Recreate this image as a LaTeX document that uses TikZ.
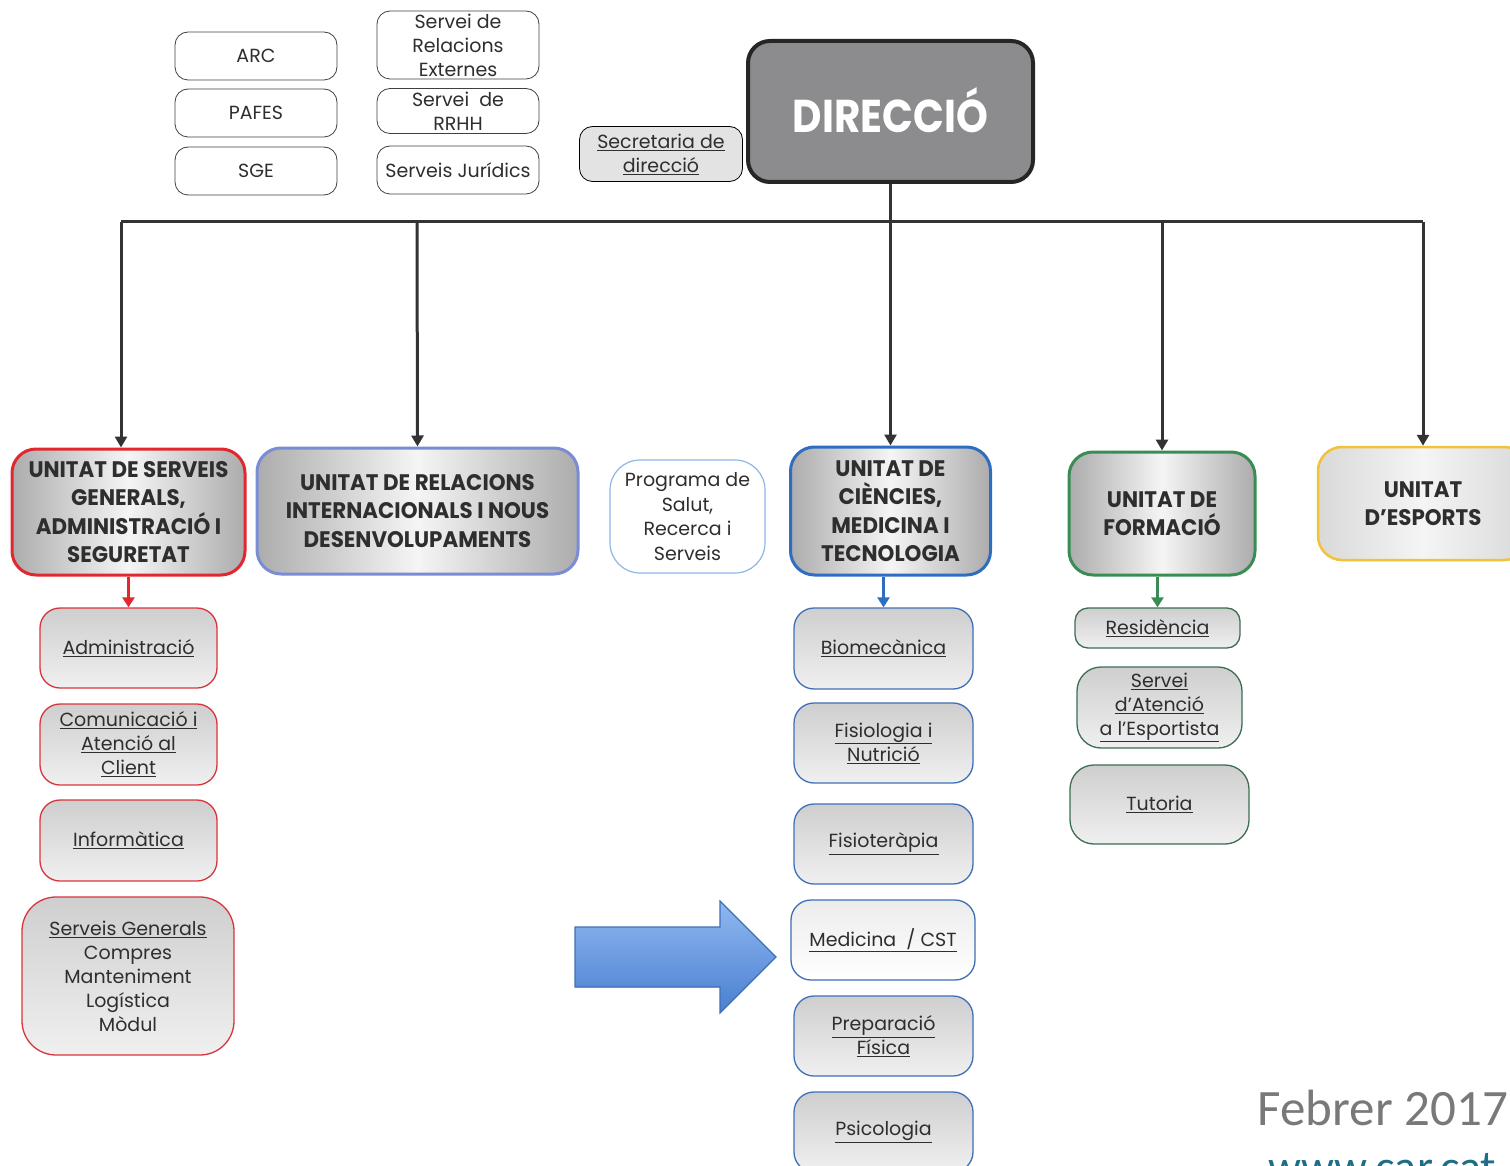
\documentclass[tikz,border=0pt]{standalone}
\usepackage{fontspec}
\setmainfont{Poppins}
\newfontfamily\headfont[FakeStretch=0.95]{Poppins}
\newfontfamily\dirfont[FakeStretch=0.88]{Poppins}
\newfontfamily\calib{Carlito}
\usetikzlibrary{arrows.meta,shapes.arrows}
\definecolor{ured}{HTML}{E0282F}
\definecolor{ublue}{HTML}{2F6DC0}
\definecolor{upurple}{HTML}{7A8CD6}
\definecolor{ugreen}{HTML}{3A8C55}
\definecolor{uyellow}{HTML}{F2C237}
\definecolor{lblue}{HTML}{8BB8E6}
\definecolor{sred}{HTML}{D9343C}
\definecolor{sblue}{HTML}{3D70B8}
\definecolor{sgreen}{HTML}{3C6E50}
\definecolor{txt}{HTML}{2E2E2E}
\definecolor{dirfill}{HTML}{8C8C8E}
\definecolor{conn}{HTML}{333333}
\definecolor{arrtop}{HTML}{8FB8F0}
\definecolor{arrbot}{HTML}{4A80D0}
\definecolor{webteal}{HTML}{1F6E85}
\newcommand\uln[1]{\underline{#1}}
\begin{document}
\begin{tikzpicture}[x=1pt,y=-1pt,
  tb/.style={draw=black!75, line width=0.8pt, rounded corners=13pt, fill=white,
    minimum width=162pt, minimum height=48pt, inner sep=0pt, align=center,
    font=\fontsize{19}{24}\selectfont, text=txt},
  unit/.style={rounded corners=24pt, line width=3pt, align=center, inner sep=0pt,
    font=\headfont\bfseries\fontsize{22.5}{28.5}\selectfont, text=txt,
    left color=gray!65, right color=gray!65, middle color=gray!8},
  sub/.style={rounded corners=20pt, line width=1.3pt, align=center, inner sep=0pt,
    font=\fontsize{19}{24}\selectfont, text=txt,
    top color=gray!38, bottom color=gray!12},
  conn/.style={draw=conn, line width=3pt},
  arr/.style={conn, -{Triangle[length=11pt,width=12pt]}},
]
\useasboundingbox (0,0) rectangle (1510,1166);

% top left boxes
\node[tb] (arc) at (256,56) {ARC};
\node[tb] (pafes) at (256,113) {PAFES};
\node[tb] (sge) at (256,171) {SGE};
\node[tb, minimum height=68pt] (sre) at (458,45) {Servei de\\Relacions\\Externes};
\node[tb, minimum height=45pt] (rrhh) at (458,111) {Servei~ de\\RRHH};
\node[tb] (sj) at (458,170) {Serveis Jurídics};
\node[tb, fill=gray!22, minimum width=163pt, minimum height=55pt, draw=black] (sec) at (661,154) {\uln{Secretaria de}\\\uln{direcció}};

% direccio
\node[draw=black!85, line width=4pt, rounded corners=22pt, fill=dirfill,
  minimum width=285pt, minimum height=141pt, inner sep=0pt, text=white,
  font=\dirfont\bfseries\fontsize{46}{50}\selectfont] (dir) at (890.5,111.5) {\raisebox{3pt}{DIRECCIÓ}};

% units
\node[unit, draw=ured, minimum width=233pt, minimum height=126pt] (u1) at (128.5,512) {UNITAT DE SERVEIS\\GENERALS,\\ADMINISTRACIÓ I\\SEGURETAT};
\node[unit, draw=upurple, minimum width=321pt, minimum height=126pt] (u2) at (417.5,511) {UNITAT DE RELACIONS\\INTERNACIONALS I NOUS\\DESENVOLUPAMENTS};
\node[draw=lblue, line width=1.2pt, rounded corners=30pt, fill=white, minimum width=155pt,
  minimum height=113pt, inner sep=0pt, align=center, text=txt,
  font=\fontsize{19}{24.5}\selectfont] (prog) at (687.5,516.5) {Programa de\\Salut,\\Recerca i\\Serveis};
\node[unit, draw=ublue, minimum width=200pt, minimum height=128pt] (u3) at (890.5,511) {UNITAT DE\\CIÈNCIES,\\MEDICINA I\\TECNOLOGIA};
\node[unit, draw=ugreen, minimum width=186pt, minimum height=123pt] (u4) at (1162,513.5) {UNITAT DE\\FORMACIÓ};
\node[unit, draw=uyellow, line width=2.5pt, minimum width=210pt, minimum height=113pt,
  left color=gray!30, right color=gray!30, middle color=gray!8] (u5) at (1423,503.5) {UNITAT\\D’ESPORTS};

% connectors
\coordinate (busL) at (121,222);
\coordinate (busR) at (1423,222);
\draw[conn] (dir.south) -- (890.5,222);
\draw[conn] (busL) -- (busR);
\draw[arr] (busL) -- (busL |- u1.north);
\draw[arr] (417,222) -- (u2.north);
\draw[arr] (dir.south) -- (u3.north);
\draw[arr] (1162,222) -- (u4.north);
\draw[arr] (busR) -- (u5.north);

% red sub items
\node[sub, draw=sred, minimum width=177pt, minimum height=80pt] (adm) at (128.5,648) {\uln{Administració}};
\node[sub, draw=sred, minimum width=177pt, minimum height=81pt] (com) at (128.5,744.5) {\uln{Comunicació i}\\\uln{Atenció al}\\\uln{Client}};
\node[sub, draw=sred, minimum width=177pt, minimum height=81pt] (inf) at (128.5,840.5) {\uln{Informàtica}};
\node[sub, draw=sred, rounded corners=34pt, minimum width=212pt, minimum height=158pt] (sg) at (128,976) {\uln{Serveis Generals}\\Compres\\Manteniment\\Logística\\Mòdul};
\draw[draw=ured, line width=2.5pt, -{Triangle[length=10pt,width=12pt]}] (u1.south) -- (adm.north);

% blue sub items
\node[sub, draw=sblue, minimum width=179pt, minimum height=81pt] (bio) at (883.5,648.5) {\uln{Biomecànica}};
\node[sub, draw=sblue, minimum width=179pt, minimum height=80pt] (fis) at (883.5,743) {\uln{Fisiologia i}\\\uln{Nutrició}};
\node[sub, draw=sblue, minimum width=179pt, minimum height=80pt] (fst) at (883.5,844) {\uln{Fisioteràpia}};
\node[sub, draw=sblue, minimum width=184pt, minimum height=80pt, top color=gray!15, bottom color=white] (med) at (883,940) {\uln{Medicina~ / CST}};
\node[sub, draw=sblue, minimum width=179pt, minimum height=80pt] (prep) at (883.5,1036) {\uln{Preparació}\\\uln{Física}};
\node[sub, draw=sblue, minimum width=179pt, minimum height=80pt] (psi) at (883.5,1132) {\uln{Psicologia}};
\draw[draw=ublue, line width=2.5pt, -{Triangle[length=10pt,width=12pt]}] (u3.south -| bio.north) -- (bio.north);

% green sub items
\node[sub, draw=sgreen, rounded corners=13pt, minimum width=165pt, minimum height=40pt] (res) at (1157.5,628) {\uln{Residència}};
\node[sub, draw=sgreen, rounded corners=24pt, minimum width=165pt, minimum height=81pt] (sae) at (1159.5,707.5) {\uln{Servei}\\\uln{d’Atenció}\\\uln{a l’Esportista}};
\node[sub, draw=sgreen, rounded corners=24pt, minimum width=179pt, minimum height=79pt] (tut) at (1159.5,804.5) {\uln{Tutoria}};
\draw[draw=ugreen, line width=2.5pt, -{Triangle[length=10pt,width=12pt]}] (u4.south -| res.north) -- (res.north);

% big arrow
\filldraw[draw=sblue, line width=1.2pt, top color=arrtop, bottom color=arrbot]
  (575,927) -- (720,927) -- (720,901) -- (776,957) -- (720,1013) -- (720,987) -- (575,987) -- cycle;

% footer
\node[anchor=base east, font=\calib\fontsize{51}{54}\selectfont, text=gray!95!black, inner sep=0pt] (feb) at (1508,1125) {Febrer 2017};
\node[anchor=base west, font=\calib\fontsize{46}{50}\selectfont, text=webteal, inner sep=0pt] (www) at (1268,1182) {www.car.cat};
\end{tikzpicture}
\end{document}
